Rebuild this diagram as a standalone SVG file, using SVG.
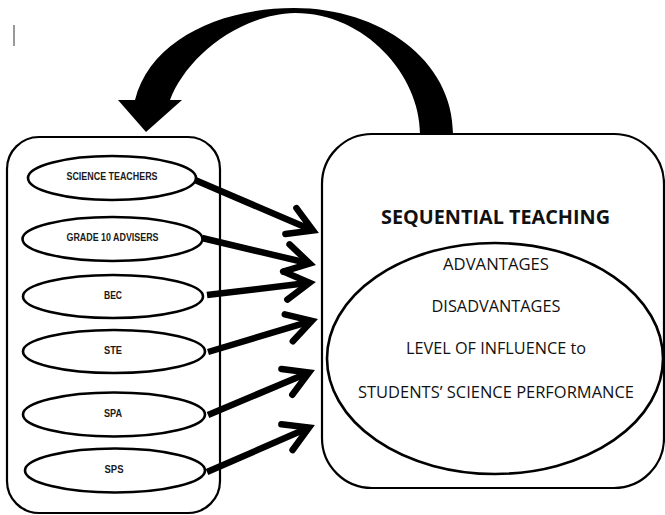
<svg xmlns="http://www.w3.org/2000/svg" width="665" height="515" viewBox="0 0 665 515">
  <style>
    .box { fill: #fff; stroke: #000; stroke-width: 2.2; }
    .oval { fill: #fff; stroke: #000; stroke-width: 2.6; }
    .small { font-family: "Liberation Sans", Arial, sans-serif; font-weight: bold; font-size: 10.5px; fill: #1a1a1a; text-anchor: middle; }
    .title { font-family: "Open Sans", "Noto Sans", sans-serif; font-weight: bold; font-size: 20px; fill: #111; text-anchor: middle; }
    .item { font-family: "Open Sans", "Noto Sans", sans-serif; font-size: 15.5px; fill: #111; text-anchor: middle; }
    .shaft { fill: none; stroke: #000; stroke-width: 6.5; stroke-linecap: butt; }
  </style>
  <defs>
    <marker id="chevron" markerUnits="userSpaceOnUse" orient="auto" markerWidth="60" markerHeight="60" refX="0" refY="0" viewBox="-30 -30 60 60" overflow="visible">
      <path d="M -24 -14 L 0 0 L -24 14" fill="none" stroke="#000" stroke-width="6.5" stroke-linecap="round" stroke-linejoin="miter"/>
    </marker>
  </defs>

  <rect width="665" height="515" fill="#fff"/>

  <!-- text cursor mark -->
  <line x1="14" y1="25" x2="14" y2="46" stroke="#333" stroke-width="1"/>

  <!-- left container with the six groups -->
  <g id="groups">
    <rect class="box" x="7" y="137" width="213" height="376" rx="32" ry="32"/>
  </g>
  <g id="science-teachers">
    <ellipse class="oval" cx="112" cy="178" rx="84" ry="22"/>
    <text class="small" x="112" y="180" textLength="91" lengthAdjust="spacingAndGlyphs">SCIENCE TEACHERS</text>
  </g>
  <g id="grade10-advisers">
    <ellipse class="oval" cx="112.5" cy="239" rx="90" ry="22"/>
    <text class="small" x="112.5" y="241" textLength="92" lengthAdjust="spacingAndGlyphs">GRADE 10 ADVISERS</text>
  </g>
  <g id="bec">
    <ellipse class="oval" cx="113" cy="296.5" rx="90" ry="21.5"/>
    <text class="small" x="113" y="298.5" textLength="18" lengthAdjust="spacingAndGlyphs">BEC</text>
  </g>
  <g id="ste">
    <ellipse class="oval" cx="114" cy="351.5" rx="91" ry="21.5"/>
    <text class="small" x="113" y="354" textLength="18" lengthAdjust="spacingAndGlyphs">STE</text>
  </g>
  <g id="spa">
    <ellipse class="oval" cx="114" cy="414.5" rx="91" ry="22"/>
    <text class="small" x="113" y="417" textLength="18" lengthAdjust="spacingAndGlyphs">SPA</text>
  </g>
  <g id="sps">
    <ellipse class="oval" cx="115" cy="470.5" rx="90" ry="22"/>
    <text class="small" x="114" y="473" textLength="19" lengthAdjust="spacingAndGlyphs">SPS</text>
  </g>

  <!-- right box: sequential teaching -->
  <g id="sequential-teaching">
    <rect class="box" x="322" y="134" width="342" height="354" rx="50" ry="50" stroke-width="2.5"/>
    <text class="title" x="495.5" y="224" textLength="229" lengthAdjust="spacingAndGlyphs">SEQUENTIAL TEACHING</text>
    <ellipse class="oval" cx="495" cy="358.5" rx="168" ry="115.5"/>
    <text class="item" x="496" y="269.5" textLength="106" lengthAdjust="spacingAndGlyphs">ADVANTAGES</text>
    <text class="item" x="496" y="311.5" textLength="129" lengthAdjust="spacingAndGlyphs">DISADVANTAGES</text>
    <text class="item" x="496" y="353.5" textLength="180" lengthAdjust="spacingAndGlyphs">LEVEL OF INFLUENCE to</text>
    <text class="item" x="496" y="397.5" textLength="276" lengthAdjust="spacingAndGlyphs">STUDENTS’ SCIENCE PERFORMANCE</text>
  </g>

  <!-- connectors -->
  <g id="connectors">
    <line class="shaft" x1="195" y1="180" x2="313" y2="230.5" marker-end="url(#chevron)"/>
    <line class="shaft" x1="202" y1="238" x2="309.7" y2="263.5" marker-end="url(#chevron)"/>
    <line class="shaft" x1="207" y1="295" x2="309.5" y2="282.8" marker-end="url(#chevron)"/>
    <line class="shaft" x1="208" y1="352" x2="311.8" y2="320.9" marker-end="url(#chevron)"/>
    <line class="shaft" x1="208" y1="415" x2="309" y2="372.5" marker-end="url(#chevron)"/>
    <line class="shaft" x1="207" y1="472" x2="309" y2="427.6" marker-end="url(#chevron)"/>

    <!-- feedback arc from the right box back to the groups -->
    <path d="M 135 100 C 150 40 220 8 294 8 C 380 8 453 60 453 134 L 420 134 C 420 75 365 13 295 13 C 235 15 185 60 170 100 Z" fill="#000"/>
    <polygon points="118,100 182,100 146,132" fill="#000"/>
  </g>
</svg>
